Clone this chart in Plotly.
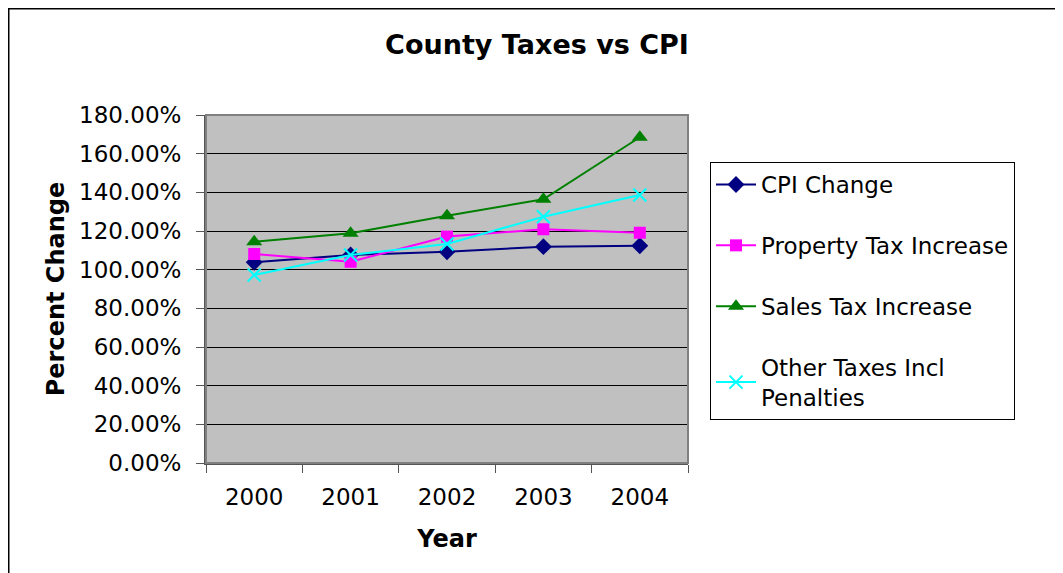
import plotly.graph_objects as go

years = ["2000", "2001", "2002", "2003", "2004"]
cpi_change = [1.038, 1.076, 1.093, 1.119, 1.124]
property_tax = [1.081, 1.041, 1.171, 1.209, 1.191]
sales_tax = [1.145, 1.188, 1.279, 1.364, 1.685]
other_taxes = [0.972, 1.076, 1.133, 1.274, 1.386]

FONT = "DejaVu Sans"

fig = go.Figure()

series = [
    ("CPI Change", cpi_change, "#000080", dict(symbol="diamond", size=13, color="#000080")),
    ("Property Tax Increase", property_tax, "#FF00FF", dict(symbol="square", size=12, color="#FF00FF")),
    ("Sales Tax Increase", sales_tax, "#008000", dict(symbol="triangle-up", size=14, color="#008000")),
    ("Other Taxes Incl<br>Penalties", other_taxes, "#00FFFF",
     dict(symbol="x-thin", size=13, color="#00FFFF", line=dict(color="#00FFFF", width=2))),
]

for i, (name, vals, col, mk) in enumerate(series):
    fig.add_trace(go.Scatter(
        x=years, y=vals, name=name, mode="lines+markers",
        line=dict(color=col, width=2), marker=mk,
        legendgroup=str(i),
        hovertemplate="%{x}: %{y:.2%}<extra></extra>",
    ))

# the page puts the figure 8px in from the top-left corner
W, H = 1055, 565
L, R, T, B = 198, 375, 107, 110
pw, ph = W - L - R, H - T - B

fig.update_layout(
    width=W, height=H,
    margin=dict(l=L, r=R, t=T, b=B),
    paper_bgcolor="white",
    plot_bgcolor="#C0C0C0",
    font=dict(family=FONT, size=23, color="black"),
    title=dict(text="<b>County Taxes vs CPI</b>", x=529 / W, xanchor="center",
               y=1 - 37 / H, yanchor="middle", font=dict(size=27, family=FONT)),
    showlegend=True,
    legend=dict(x=(702 - L) / pw, y=(H - B - 154) / ph, xanchor="left", yanchor="top",
                bordercolor="black", borderwidth=1, bgcolor="white",
                font=dict(size=23, family=FONT),
                tracegroupgap=28, itemwidth=40),
    xaxis=dict(
        type="category", range=[-0.5, 4.5],
        title=dict(text="<b>Year</b>", font=dict(size=24), standoff=22),
        showgrid=False, ticks="outside", tickson="boundaries", ticklen=8,
        tickcolor="#555555", showline=True, linecolor="#555555", linewidth=2,
        tickfont=dict(size=23), ticklabelstandoff=12,
    ),
    yaxis=dict(
        range=[0, 1.8], dtick=0.2, tickformat=".2%",
        title=dict(text="<b>Percent Change</b>", font=dict(size=24), standoff=8),
        showgrid=True, gridcolor="black", gridwidth=1,
        ticks="outside", ticklen=8, tickcolor="#555555",
        showline=True, linecolor="#555555", linewidth=2,
        zeroline=False, tickfont=dict(size=23), ticklabelstandoff=10,
    ),
    shapes=[
        # plot area border
        dict(type="rect", xref="paper", yref="paper", x0=0, y0=0, x1=1, y1=1,
             line=dict(color="#808080", width=2), layer="above"),
        # chart outer border (cropped at right and bottom)
        dict(type="rect", xref="paper", yref="paper",
             x0=(0.75 - L) / pw, y0=-0.5, x1=1.9, y1=(H - B - 0.75) / ph,
             line=dict(color="black", width=1.5)),
    ],
)

fig.write_html("out.html")
